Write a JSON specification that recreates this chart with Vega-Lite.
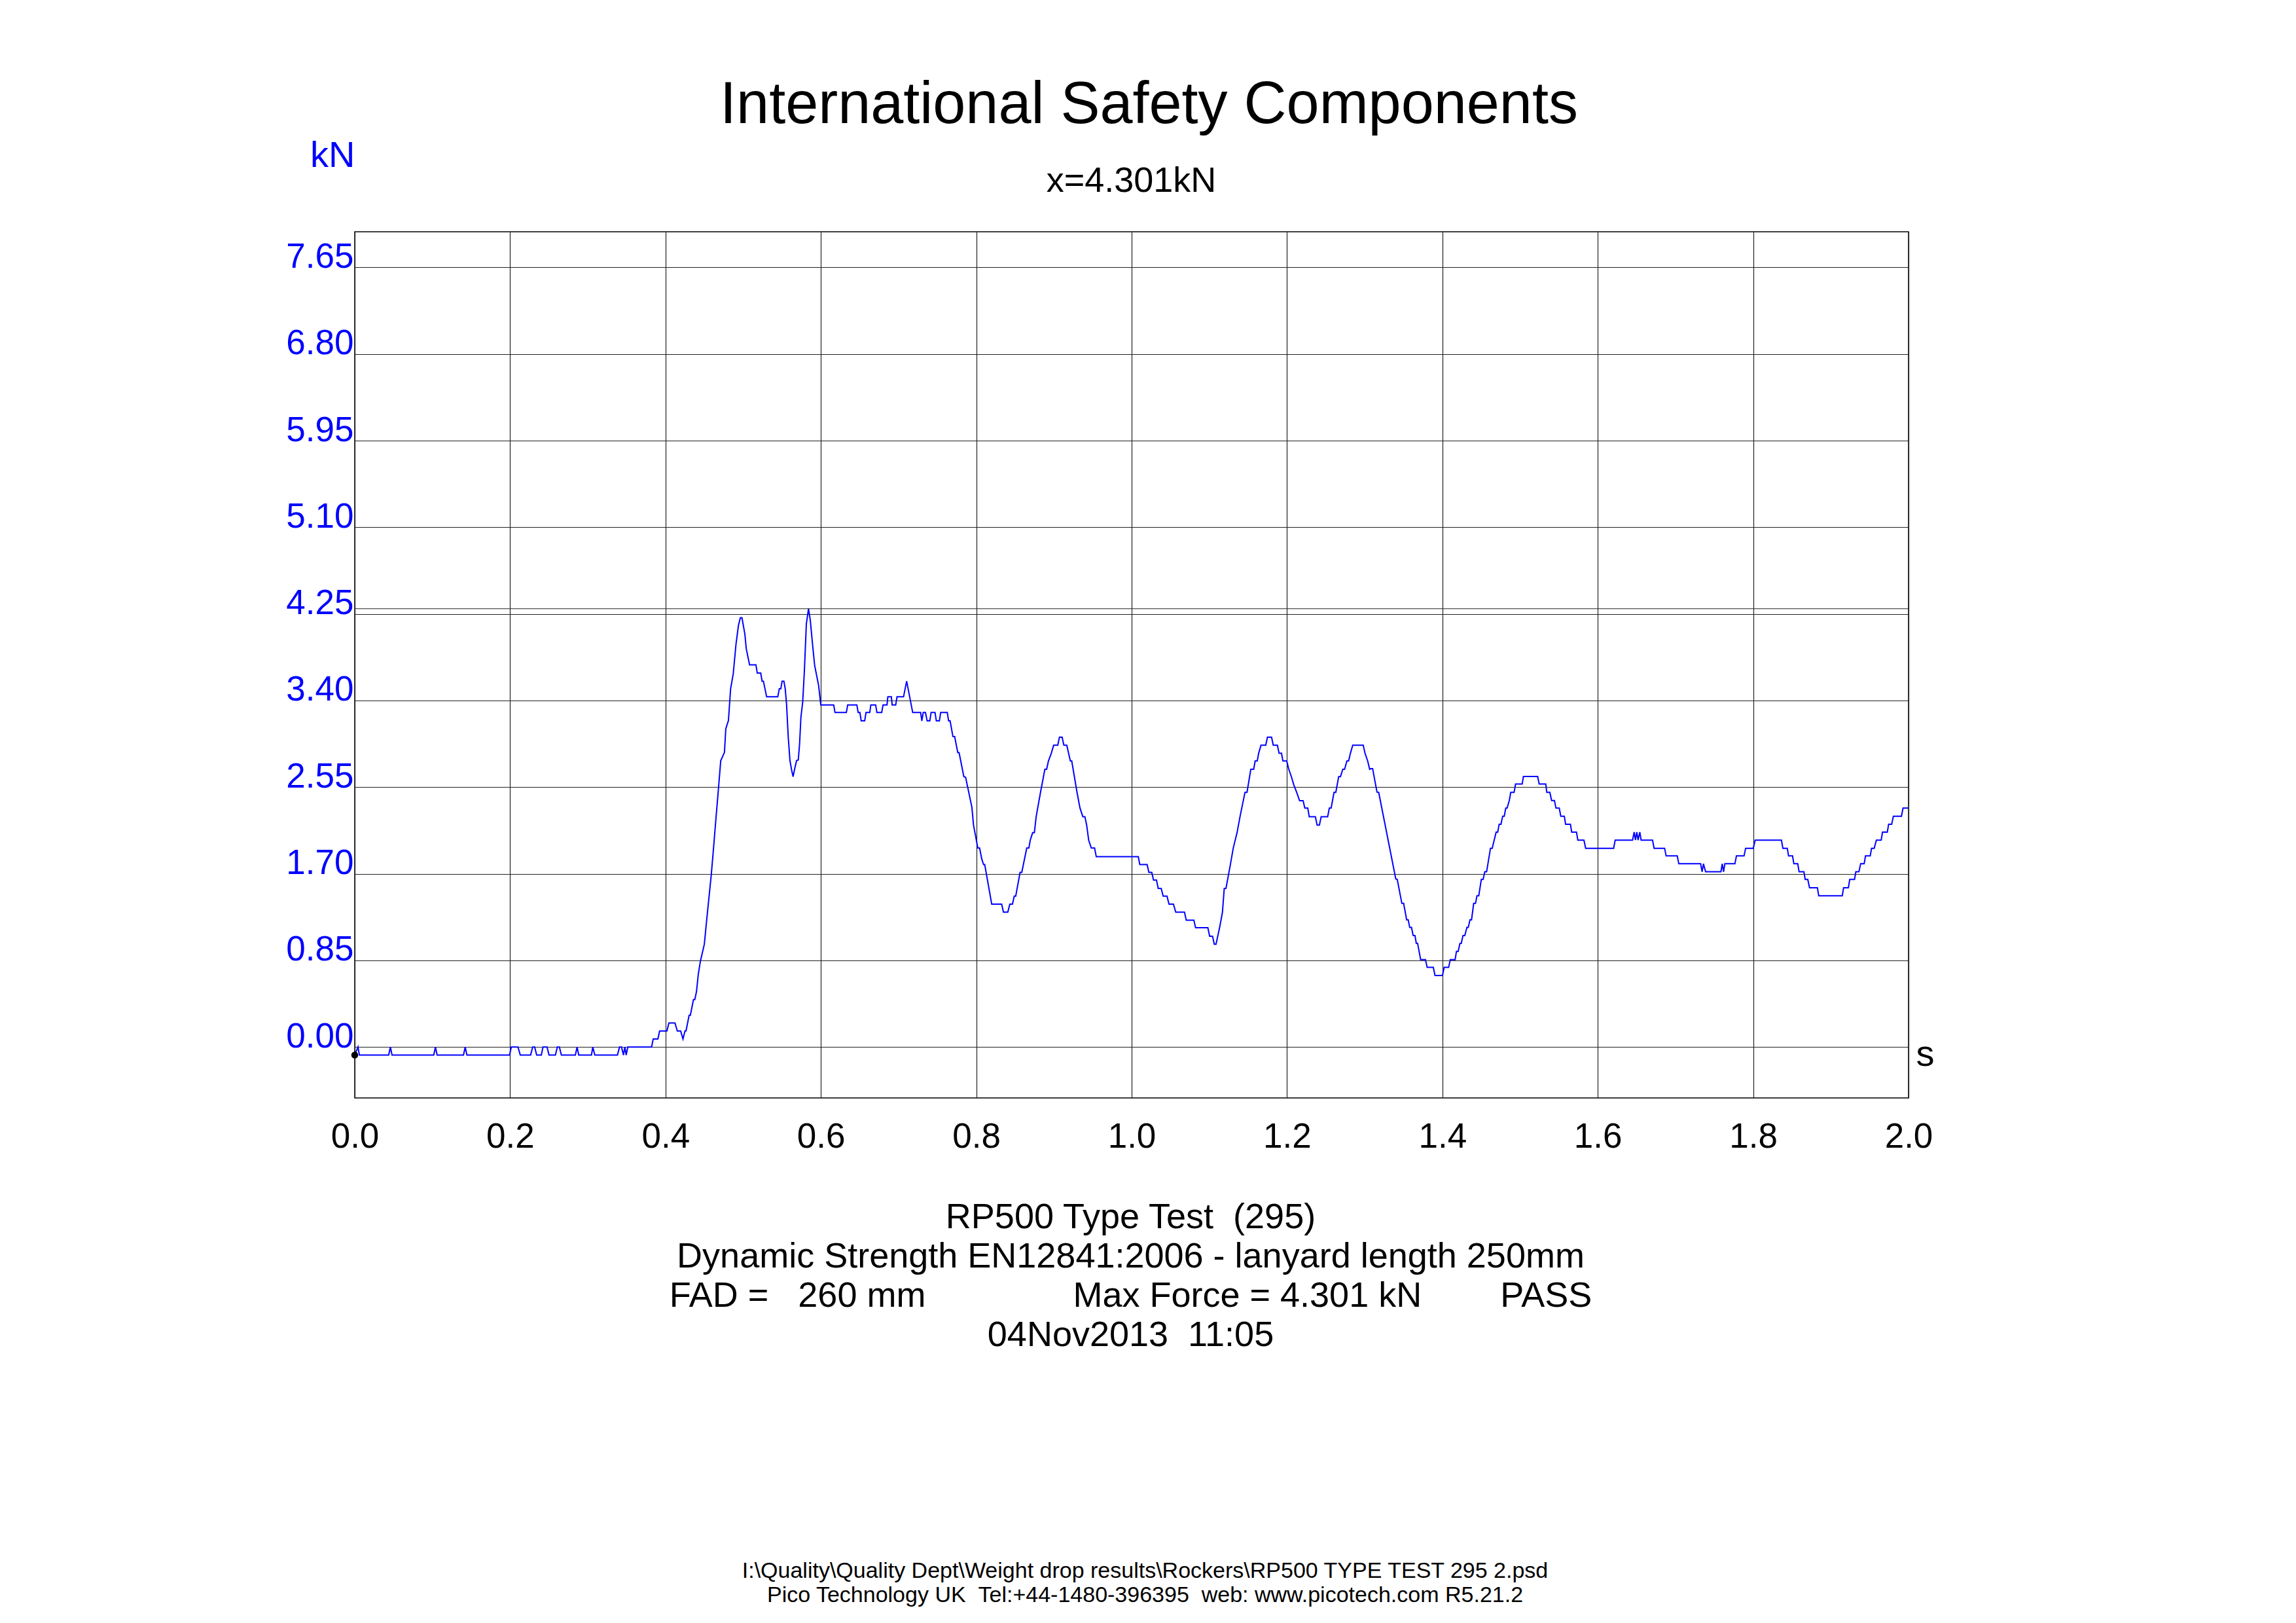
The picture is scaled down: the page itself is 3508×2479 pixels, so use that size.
{
  "$schema": "https://vega.github.io/schema/vega-lite/v6.json",
  "width": 2374,
  "height": 1323,
  "autosize": {"type": "none"},
  "padding": {"left": 542, "top": 354, "right": 592, "bottom": 802},
  "background": "white",
  "config": {
    "font": "Liberation Sans",
    "view": {"stroke": "#000000", "strokeWidth": 1.5},
    "axis": {"titleFontWeight": "normal", "titleFont": "Liberation Sans", "labelFont": "Liberation Sans", "titleColor": "#000000"}
  },
  "resolve": {"axis": {"x": "independent", "y": "independent"}},
  "layer": [
    {
      "data": {"values": [
        {"t":0,"f":-0.079},{"t":0.0042,"f":0},{"t":0.0059,"f":-0.079},
        {"t":0.0437,"f":-0.079},{"t":0.0459,"f":0},{"t":0.048,"f":-0.079},
        {"t":0.1017,"f":-0.079},{"t":0.1039,"f":0},{"t":0.106,"f":-0.079},
        {"t":0.14,"f":-0.079},{"t":0.1422,"f":0},{"t":0.1444,"f":-0.079},
        {"t":0.1993,"f":-0.079},{"t":0.2015,"f":0},{"t":0.2101,"f":0},{"t":0.2131,"f":-0.079},
        {"t":0.2264,"f":-0.079},{"t":0.229,"f":0},{"t":0.2316,"f":0},{"t":0.2342,"f":-0.079},
        {"t":0.2402,"f":-0.079},{"t":0.2423,"f":0},{"t":0.2475,"f":0},{"t":0.2501,"f":-0.079},
        {"t":0.2583,"f":-0.079},{"t":0.2608,"f":0},{"t":0.2634,"f":0},{"t":0.266,"f":-0.079},
        {"t":0.284,"f":-0.079},{"t":0.2862,"f":0},{"t":0.2883,"f":-0.079},
        {"t":0.3047,"f":-0.079},{"t":0.3064,"f":0},{"t":0.309,"f":-0.079},
        {"t":0.3382,"f":-0.079},{"t":0.3408,"f":0},{"t":0.3434,"f":0},{"t":0.3459,"f":-0.079},{"t":0.3477,"f":0},{"t":0.3494,"f":-0.079},{"t":0.3515,"f":0},
        {"t":0.3821,"f":0},{"t":0.3842,"f":0.079},{"t":0.3902,"f":0.079},{"t":0.3924,"f":0.157},{"t":0.4018,"f":0.157},{"t":0.4044,"f":0.236},{"t":0.4122,"f":0.236},{"t":0.4152,"f":0.157},{"t":0.4195,"f":0.157},{"t":0.4225,"f":0.079},{"t":0.4251,"f":0.157},
        {"t":0.4264,"f":0.157},{"t":0.4304,"f":0.311},{"t":0.432,"f":0.311},{"t":0.436,"f":0.465},{"t":0.4377,"f":0.465},{"t":0.4399,"f":0.544},{"t":0.4422,"f":0.714},{"t":0.445,"f":0.845},{"t":0.45,"f":1.009},{"t":0.4529,"f":1.238},{"t":0.4551,"f":1.402},{"t":0.459,"f":1.697},{"t":0.4619,"f":1.959},{"t":0.4647,"f":2.221},{"t":0.4683,"f":2.548},{"t":0.4711,"f":2.81},{"t":0.4731,"f":2.843},{"t":0.4759,"f":2.892},{"t":0.4776,"f":3.122},{"t":0.481,"f":3.203},{"t":0.4838,"f":3.515},{"t":0.4872,"f":3.662},{"t":0.4908,"f":3.957},{"t":0.4939,"f":4.137},{"t":0.4964,"f":4.212},{"t":0.4984,"f":4.212},{"t":0.5021,"f":4.055},{"t":0.504,"f":3.906},{"t":0.5082,"f":3.75},{"t":0.5164,"f":3.75},{"t":0.5181,"f":3.669},{"t":0.5226,"f":3.669},{"t":0.5243,"f":3.59},{"t":0.526,"f":3.59},{"t":0.5302,"f":3.436},{"t":0.5445,"f":3.436},{"t":0.5465,"f":3.515},{"t":0.5484,"f":3.515},{"t":0.5501,"f":3.59},{"t":0.5524,"f":3.59},{"t":0.5541,"f":3.515},{"t":0.5558,"f":3.367},{"t":0.558,"f":3.04},{"t":0.5602,"f":2.81},{"t":0.5625,"f":2.712},{"t":0.5642,"f":2.653},{"t":0.5667,"f":2.745},{"t":0.5687,"f":2.81},{"t":0.5709,"f":2.817},{"t":0.5726,"f":2.974},{"t":0.5743,"f":3.236},{"t":0.5766,"f":3.384},{"t":0.5788,"f":3.695},{"t":0.5813,"f":4.153},{"t":0.5841,"f":4.301},{"t":0.5864,"f":4.186},{"t":0.5892,"f":3.957},{"t":0.592,"f":3.744},{"t":0.5971,"f":3.547},{"t":0.5999,"f":3.357},
        {"t":0.6165,"f":3.357},{"t":0.6182,"f":3.282},{"t":0.6328,"f":3.282},{"t":0.6345,"f":3.357},{"t":0.6463,"f":3.357},{"t":0.648,"f":3.282},{"t":0.6502,"f":3.282},{"t":0.6519,"f":3.2},{"t":0.6564,"f":3.2},{"t":0.6581,"f":3.282},{"t":0.6629,"f":3.282},{"t":0.6643,"f":3.357},{"t":0.6705,"f":3.357},{"t":0.6721,"f":3.282},{"t":0.6783,"f":3.282},{"t":0.68,"f":3.357},{"t":0.6851,"f":3.357},{"t":0.6862,"f":3.436},{"t":0.6907,"f":3.436},{"t":0.6918,"f":3.357},{"t":0.6963,"f":3.357},{"t":0.698,"f":3.436},{"t":0.7064,"f":3.436},{"t":0.7104,"f":3.59},{"t":0.7143,"f":3.436},{"t":0.7182,"f":3.282},{"t":0.7284,"f":3.282},{"t":0.73,"f":3.2},{"t":0.7317,"f":3.282},{"t":0.7346,"f":3.282},{"t":0.7368,"f":3.2},{"t":0.7402,"f":3.2},{"t":0.7419,"f":3.282},{"t":0.7469,"f":3.282},{"t":0.7486,"f":3.2},{"t":0.7525,"f":3.2},{"t":0.7542,"f":3.282},{"t":0.7627,"f":3.282},{"t":0.7644,"f":3.2},{"t":0.7663,"f":3.2},{"t":0.77,"f":3.046},{"t":0.7722,"f":3.046},{"t":0.7762,"f":2.889},{"t":0.7779,"f":2.889},{"t":0.784,"f":2.653},{"t":0.7863,"f":2.647},{"t":0.7944,"f":2.352},{"t":0.7964,"f":2.181},{"t":0.802,"f":1.952},{"t":0.8043,"f":1.952},{"t":0.8071,"f":1.844},
        {"t":0.8094,"f":1.79},{"t":0.8109,"f":1.79},{"t":0.8199,"f":1.402},{"t":0.8327,"f":1.402},{"t":0.835,"f":1.323},{"t":0.8406,"f":1.323},{"t":0.8432,"f":1.402},{"t":0.8466,"f":1.402},{"t":0.8489,"f":1.481},{"t":0.8508,"f":1.481},{"t":0.8564,"f":1.713},{"t":0.8586,"f":1.713},{"t":0.865,"f":1.952},{"t":0.8677,"f":1.952},{"t":0.8695,"f":2.03},{"t":0.8726,"f":2.103},{"t":0.8748,"f":2.103},{"t":0.8771,"f":2.26},{"t":0.8827,"f":2.499},{"t":0.8883,"f":2.725},{"t":0.8906,"f":2.725},{"t":0.8929,"f":2.807},{"t":0.8966,"f":2.882},{"t":0.8996,"f":2.961},{"t":0.9049,"f":2.961},{"t":0.9071,"f":3.04},{"t":0.9105,"f":3.04},{"t":0.9128,"f":2.961},{"t":0.9165,"f":2.961},{"t":0.9211,"f":2.807},{"t":0.9229,"f":2.807},{"t":0.9297,"f":2.499},{"t":0.9335,"f":2.345},{"t":0.9372,"f":2.26},{"t":0.9398,"f":2.26},{"t":0.9421,"f":2.178},{"t":0.9447,"f":2.03},{"t":0.9481,"f":1.952},{"t":0.9523,"f":1.952},{"t":0.9545,"f":1.867},
        {"t":1.0086,"f":1.867},{"t":1.0105,"f":1.79},{"t":1.0199,"f":1.79},{"t":1.0222,"f":1.713},{"t":1.0259,"f":1.713},{"t":1.0282,"f":1.638},{"t":1.032,"f":1.638},{"t":1.0342,"f":1.556},{"t":1.038,"f":1.556},{"t":1.0406,"f":1.481},{"t":1.0455,"f":1.481},{"t":1.0481,"f":1.402},{"t":1.0538,"f":1.402},{"t":1.0568,"f":1.323},{"t":1.068,"f":1.323},{"t":1.0703,"f":1.245},{"t":1.0801,"f":1.245},{"t":1.0823,"f":1.17},{"t":1.0981,"f":1.17},{"t":1.1004,"f":1.087},{"t":1.1041,"f":1.087},{"t":1.1064,"f":1.009},{"t":1.1086,"f":1.009},{"t":1.1132,"f":1.17},{"t":1.1169,"f":1.323},{"t":1.1192,"f":1.556},{"t":1.1214,"f":1.556},{"t":1.1271,"f":1.79},{"t":1.1308,"f":1.952},{"t":1.1357,"f":2.103},{"t":1.1395,"f":2.26},{"t":1.1459,"f":2.499},{"t":1.1485,"f":2.499},{"t":1.1534,"f":2.725},{"t":1.1571,"f":2.725},{"t":1.159,"f":2.807},{"t":1.1617,"f":2.807},{"t":1.1635,"f":2.882},{"t":1.1665,"f":2.961},{"t":1.1726,"f":2.961},{"t":1.1748,"f":3.04},{"t":1.1801,"f":3.04},{"t":1.1823,"f":2.961},{"t":1.1876,"f":2.961},{"t":1.1898,"f":2.882},{"t":1.1929,"f":2.882},{"t":1.1947,"f":2.807},{"t":1.1996,"f":2.807},{"t":1.2023,"f":2.725},{"t":1.2056,"f":2.653},{"t":1.2086,"f":2.575},{"t":1.2124,"f":2.499},{"t":1.2162,"f":2.417},{"t":1.2207,"f":2.417},{"t":1.2229,"f":2.345},{"t":1.2267,"f":2.345},{"t":1.2286,"f":2.26},{"t":1.2365,"f":2.26},{"t":1.2387,"f":2.178},{"t":1.2417,"f":2.178},{"t":1.244,"f":2.26},{"t":1.2523,"f":2.26},{"t":1.2545,"f":2.345},{"t":1.2568,"f":2.345},{"t":1.2605,"f":2.499},{"t":1.2628,"f":2.499},{"t":1.2665,"f":2.653},{"t":1.2688,"f":2.653},{"t":1.2718,"f":2.725},{"t":1.2741,"f":2.725},{"t":1.2771,"f":2.807},{"t":1.2793,"f":2.807},{"t":1.2816,"f":2.882},{"t":1.2846,"f":2.961},{"t":1.2981,"f":2.961},{"t":1.3004,"f":2.882},{"t":1.3038,"f":2.807},{"t":1.3064,"f":2.725},
        {"t":1.3085,"f":2.732},{"t":1.3102,"f":2.732},{"t":1.3158,"f":2.501},{"t":1.318,"f":2.499},{"t":1.34,"f":1.649},{"t":1.3419,"f":1.644},{"t":1.3478,"f":1.409},{"t":1.3501,"f":1.409},{"t":1.354,"f":1.248},{"t":1.356,"f":1.248},{"t":1.3579,"f":1.173},{"t":1.3602,"f":1.173},{"t":1.3624,"f":1.094},{"t":1.3647,"f":1.094},{"t":1.3664,"f":1.017},{"t":1.3681,"f":1.017},{"t":1.372,"f":0.858},{"t":1.3782,"f":0.858},{"t":1.3804,"f":0.781},{"t":1.3883,"f":0.781},{"t":1.3905,"f":0.702},{"t":1.4001,"f":0.702},{"t":1.4023,"f":0.781},{"t":1.408,"f":0.781},{"t":1.4102,"f":0.858},{"t":1.4164,"f":0.858},{"t":1.4181,"f":0.938},{"t":1.4203,"f":0.938},{"t":1.4226,"f":1.017},{"t":1.4243,"f":1.017},{"t":1.4265,"f":1.094},{"t":1.4288,"f":1.094},{"t":1.4316,"f":1.173},{"t":1.4333,"f":1.173},{"t":1.4355,"f":1.248},{"t":1.4375,"f":1.248},{"t":1.4403,"f":1.409},{"t":1.4426,"f":1.409},{"t":1.4445,"f":1.484},{"t":1.4468,"f":1.484},{"t":1.4501,"f":1.644},{"t":1.4524,"f":1.644},{"t":1.4546,"f":1.719},{"t":1.4569,"f":1.719},{"t":1.4619,"f":1.95},{"t":1.4641,"f":1.95},{"t":1.4692,"f":2.109},{"t":1.4712,"f":2.109},{"t":1.4731,"f":2.186},{"t":1.4754,"f":2.186},{"t":1.4776,"f":2.265},{"t":1.4796,"f":2.265},{"t":1.4816,"f":2.344},{"t":1.4833,"f":2.344},{"t":1.4861,"f":2.419},{"t":1.488,"f":2.499},{"t":1.4923,"f":2.499},{"t":1.4942,"f":2.58},{"t":1.5027,"f":2.58},{"t":1.5043,"f":2.655},{"t":1.5226,"f":2.655},{"t":1.5246,"f":2.58},{"t":1.533,"f":2.58},{"t":1.5344,"f":2.499},{"t":1.5383,"f":2.499},{"t":1.5406,"f":2.419},{"t":1.5442,"f":2.419},{"t":1.5462,"f":2.344},{"t":1.5504,"f":2.344},{"t":1.5524,"f":2.265},{"t":1.5569,"f":2.265},{"t":1.5586,"f":2.186},{"t":1.5648,"f":2.186},{"t":1.5664,"f":2.109},{"t":1.5726,"f":2.109},{"t":1.5743,"f":2.03},{"t":1.5822,"f":2.03},{"t":1.5844,"f":1.95},{"t":1.6204,"f":1.95},{"t":1.6224,"f":2.03},{"t":1.6448,"f":2.03},{"t":1.6468,"f":2.109},{"t":1.6485,"f":2.03},{"t":1.6502,"f":2.109},{"t":1.6519,"f":2.03},{"t":1.6541,"f":2.109},{"t":1.6558,"f":2.03},
        {"t":1.6705,"f":2.03},{"t":1.6725,"f":1.95},{"t":1.686,"f":1.95},{"t":1.688,"f":1.875},{"t":1.7023,"f":1.875},{"t":1.7043,"f":1.798},{"t":1.7324,"f":1.798},{"t":1.7343,"f":1.719},{"t":1.736,"f":1.798},{"t":1.7388,"f":1.719},{"t":1.7585,"f":1.719},{"t":1.7602,"f":1.798},{"t":1.7619,"f":1.719},{"t":1.7636,"f":1.798},{"t":1.7765,"f":1.798},{"t":1.7785,"f":1.875},{"t":1.7883,"f":1.875},{"t":1.7903,"f":1.95},{"t":1.8001,"f":1.95},{"t":1.8026,"f":2.03},{"t":1.8364,"f":2.03},{"t":1.8383,"f":1.95},{"t":1.8439,"f":1.95},{"t":1.8456,"f":1.875},{"t":1.8507,"f":1.875},{"t":1.8524,"f":1.798},{"t":1.8574,"f":1.798},{"t":1.8591,"f":1.719},{"t":1.8653,"f":1.719},{"t":1.867,"f":1.644},{"t":1.8703,"f":1.644},{"t":1.8726,"f":1.563},{"t":1.8827,"f":1.563},{"t":1.8844,"f":1.484},{"t":1.9147,"f":1.484},{"t":1.9164,"f":1.563},{"t":1.9226,"f":1.563},{"t":1.9243,"f":1.644},{"t":1.9305,"f":1.644},{"t":1.9322,"f":1.719},{"t":1.9361,"f":1.719},{"t":1.9384,"f":1.798},{"t":1.9429,"f":1.798},{"t":1.9446,"f":1.875},{"t":1.9507,"f":1.875},{"t":1.9524,"f":1.95},{"t":1.9558,"f":1.95},{"t":1.9586,"f":2.03},{"t":1.9648,"f":2.03},{"t":1.9665,"f":2.109},{"t":1.9727,"f":2.109},{"t":1.9744,"f":2.186},{"t":1.9783,"f":2.186},{"t":1.9805,"f":2.265},{"t":1.9909,"f":2.265},{"t":1.9929,"f":2.344},{"t":1.9993,"f":2.344}
      ]},
      "mark": {"type": "line", "color": "#0000FF", "strokeWidth": 2, "interpolate": "linear"},
      "encoding": {
        "x": {
          "field": "t", "type": "quantitative",
          "scale": {"domain": [0, 2], "nice": false, "zero": false},
          "axis": {
            "orient": "bottom",
            "values": [0, 0.2, 0.4, 0.6, 0.8, 1.0, 1.2, 1.4, 1.6, 1.8, 2.0],
            "format": ".1f",
            "labelFontSize": 53, "labelColor": "#000000", "labelBaseline": "alphabetic", "labelPadding": 75,
            "labelFlush": false, "labelOverlap": false,
            "ticks": false, "tickSize": 0, "domain": false,
            "grid": true, "gridColor": "#222222", "gridWidth": 1.2,
            "title": ["RP500 Type Test\u00a0\u00a0(295)", "Dynamic Strength EN12841:2006 - lanyard length 250mm", "FAD =\u00a0\u00a0\u00a0260 mm\u00a0\u00a0\u00a0\u00a0\u00a0\u00a0\u00a0\u00a0\u00a0\u00a0\u00a0\u00a0\u00a0\u00a0\u00a0Max Force = 4.301 kN\u00a0\u00a0\u00a0\u00a0\u00a0\u00a0\u00a0\u00a0PASS", "04Nov2013\u00a0\u00a011:05"],
            "titleX": 1185, "titleY": 198, "titleAlign": "center", "titleBaseline": "alphabetic",
            "titleFontSize": 54, "titleLineHeight": 60, "titleColor": "#000000"
          }
        },
        "y": {
          "field": "f", "type": "quantitative",
          "scale": {"domain": [-0.5, 8.0], "nice": false, "zero": false},
          "axis": {
            "orient": "left",
            "values": [0, 0.85, 1.7, 2.55, 3.4, 4.25, 5.1, 5.95, 6.8, 7.65],
            "format": ".2f",
            "labelFontSize": 53, "labelColor": "#0000FF", "labelBaseline": "alphabetic", "labelPadding": 2,
            "labelFlush": false, "labelOverlap": false,
            "ticks": false, "tickSize": 0, "domain": false,
            "grid": true, "gridColor": "#222222", "gridWidth": 1.2,
            "title": "kN", "titleX": 0, "titleY": -100, "titleAngle": 0, "titleAlign": "right", "titleBaseline": "alphabetic",
            "titleFontSize": 56, "titleColor": "#0000FF"
          }
        }
      }
    },
    {
      "data": {"values": [{"level": 4.301, "t0": 0, "t1": 2}]},
      "mark": {"type": "rule", "color": "#222222", "strokeWidth": 1.2},
      "encoding": {
        "x": {
          "field": "t0", "type": "quantitative",
          "scale": {"domain": [0, 2], "nice": false, "zero": false},
          "axis": {
            "orient": "top", "labels": false, "ticks": false, "domain": false, "grid": false,
            "title": "International Safety Components",
            "titleX": 1213, "titleY": -166.7, "titleAlign": "center", "titleBaseline": "alphabetic",
            "titleFontSize": 90, "titleColor": "#000000"
          }
        },
        "x2": {"field": "t1"},
        "y": {
          "field": "level", "type": "quantitative",
          "scale": {"domain": [-0.5, 8.0], "nice": false, "zero": false},
          "axis": {
            "orient": "right", "labels": false, "ticks": false, "domain": false, "grid": false,
            "title": "s", "titleX": 11, "titleY": 1273, "titleAngle": 0, "titleAlign": "left", "titleBaseline": "alphabetic",
            "titleFontSize": 56, "titleColor": "#000000"
          }
        }
      }
    },
    {
      "data": {"values": [{"t": 0, "f": -0.079}]},
      "mark": {"type": "circle", "color": "#000000", "size": 110, "opacity": 1},
      "encoding": {
        "x": {
          "field": "t", "type": "quantitative",
          "scale": {"domain": [0, 2], "nice": false, "zero": false},
          "axis": {
            "orient": "top", "labels": false, "ticks": false, "domain": false, "grid": false,
            "title": "x=4.301kN",
            "titleX": 1186, "titleY": -61.3, "titleAlign": "center", "titleBaseline": "alphabetic",
            "titleFontSize": 54, "titleColor": "#000000"
          }
        },
        "y": {
          "field": "f", "type": "quantitative",
          "scale": {"domain": [-0.5, 8.0], "nice": false, "zero": false},
          "axis": {
            "orient": "left", "labels": false, "ticks": false, "domain": false, "grid": false,
            "title": ["I:\\Quality\\Quality Dept\\Weight drop results\\Rockers\\RP500 TYPE TEST 295 2.psd", "Pico Technology UK\u00a0\u00a0Tel:+44-1480-396395\u00a0\u00a0web: www.picotech.com R5.21.2"],
            "titleX": 1207, "titleY": 2055, "titleAngle": 0, "titleAlign": "center", "titleBaseline": "alphabetic",
            "titleFontSize": 34, "titleLineHeight": 37, "titleColor": "#000000"
          }
        }
      }
    }
  ]
}
